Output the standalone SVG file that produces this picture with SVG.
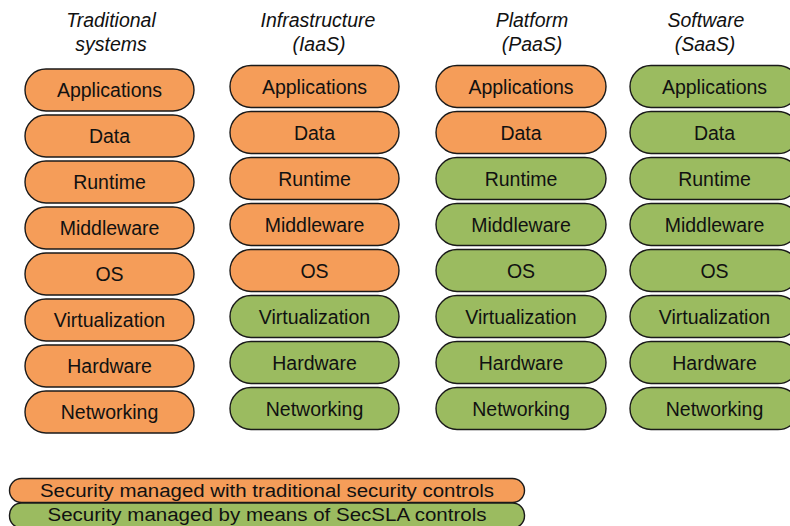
<svg xmlns="http://www.w3.org/2000/svg" width="790" height="526" viewBox="0 0 790 526">
<style>
.o{fill:#F59D59;stroke:#1a1a1a;stroke-width:1.4}
.g{fill:#9BBB60;stroke:#1a1a1a;stroke-width:1.4}
.t{font-family:"Liberation Sans",Arial,sans-serif;font-size:19.5px;fill:#111;text-anchor:middle}
.h{font-family:"Liberation Sans",Arial,sans-serif;font-size:19.5px;font-style:italic;fill:#111;text-anchor:middle}
.l{font-family:"Liberation Sans",Arial,sans-serif;font-size:18px;fill:#111;text-anchor:middle}
</style>
<rect width="790" height="526" fill="#fff"/>
<g id="headers">
<text class="h" x="111" y="27">Traditional</text><text class="h" x="111" y="51">systems</text>
<text class="h" x="318" y="27">Infrastructure</text><text class="h" x="319" y="51">(IaaS)</text>
<text class="h" x="532" y="27">Platform</text><text class="h" x="532" y="51">(PaaS)</text>
<text class="h" x="706" y="27">Software</text><text class="h" x="705" y="51">(SaaS)</text>
</g>
<g id="col-traditional">
<g id="t-app"><rect class="o" x="25" y="69" width="169" height="42" rx="21"/><text class="t" x="109.5" y="97">Applications</text></g>
<g id="t-data"><rect class="o" x="25" y="115" width="169" height="42" rx="21"/><text class="t" x="109.5" y="143">Data</text></g>
<g id="t-runtime"><rect class="o" x="25" y="161" width="169" height="42" rx="21"/><text class="t" x="109.5" y="189">Runtime</text></g>
<g id="t-mw"><rect class="o" x="25" y="207" width="169" height="42" rx="21"/><text class="t" x="109.5" y="235">Middleware</text></g>
<g id="t-os"><rect class="o" x="25" y="253" width="169" height="42" rx="21"/><text class="t" x="109.5" y="281">OS</text></g>
<g id="t-virt"><rect class="o" x="25" y="299" width="169" height="42" rx="21"/><text class="t" x="109.5" y="327">Virtualization</text></g>
<g id="t-hw"><rect class="o" x="25" y="345" width="169" height="42" rx="21"/><text class="t" x="109.5" y="373">Hardware</text></g>
<g id="t-net"><rect class="o" x="25" y="391" width="169" height="42" rx="21"/><text class="t" x="109.5" y="419">Networking</text></g>
</g>
<g id="col-iaas">
<g id="i-app"><rect class="o" x="230" y="65.5" width="169" height="42" rx="21"/><text class="t" x="314.5" y="93.5">Applications</text></g>
<g id="i-data"><rect class="o" x="230" y="111.5" width="169" height="42" rx="21"/><text class="t" x="314.5" y="139.5">Data</text></g>
<g id="i-runtime"><rect class="o" x="230" y="157.5" width="169" height="42" rx="21"/><text class="t" x="314.5" y="185.5">Runtime</text></g>
<g id="i-mw"><rect class="o" x="230" y="203.5" width="169" height="42" rx="21"/><text class="t" x="314.5" y="231.5">Middleware</text></g>
<g id="i-os"><rect class="o" x="230" y="249.5" width="169" height="42" rx="21"/><text class="t" x="314.5" y="277.5">OS</text></g>
<g id="i-virt"><rect class="g" x="230" y="295.5" width="169" height="42" rx="21"/><text class="t" x="314.5" y="323.5">Virtualization</text></g>
<g id="i-hw"><rect class="g" x="230" y="341.5" width="169" height="42" rx="21"/><text class="t" x="314.5" y="369.5">Hardware</text></g>
<g id="i-net"><rect class="g" x="230" y="387.5" width="169" height="42" rx="21"/><text class="t" x="314.5" y="415.5">Networking</text></g>
</g>
<g id="col-paas">
<g id="p-app"><rect class="o" x="436" y="65.5" width="170" height="42" rx="21"/><text class="t" x="521" y="93.5">Applications</text></g>
<g id="p-data"><rect class="o" x="436" y="111.5" width="170" height="42" rx="21"/><text class="t" x="521" y="139.5">Data</text></g>
<g id="p-runtime"><rect class="g" x="436" y="157.5" width="170" height="42" rx="21"/><text class="t" x="521" y="185.5">Runtime</text></g>
<g id="p-mw"><rect class="g" x="436" y="203.5" width="170" height="42" rx="21"/><text class="t" x="521" y="231.5">Middleware</text></g>
<g id="p-os"><rect class="g" x="436" y="249.5" width="170" height="42" rx="21"/><text class="t" x="521" y="277.5">OS</text></g>
<g id="p-virt"><rect class="g" x="436" y="295.5" width="170" height="42" rx="21"/><text class="t" x="521" y="323.5">Virtualization</text></g>
<g id="p-hw"><rect class="g" x="436" y="341.5" width="170" height="42" rx="21"/><text class="t" x="521" y="369.5">Hardware</text></g>
<g id="p-net"><rect class="g" x="436" y="387.5" width="170" height="42" rx="21"/><text class="t" x="521" y="415.5">Networking</text></g>
</g>
<g id="col-saas">
<g id="s-app"><rect class="g" x="630" y="65.5" width="169" height="42" rx="21"/><text class="t" x="714.5" y="93.5">Applications</text></g>
<g id="s-data"><rect class="g" x="630" y="111.5" width="169" height="42" rx="21"/><text class="t" x="714.5" y="139.5">Data</text></g>
<g id="s-runtime"><rect class="g" x="630" y="157.5" width="169" height="42" rx="21"/><text class="t" x="714.5" y="185.5">Runtime</text></g>
<g id="s-mw"><rect class="g" x="630" y="203.5" width="169" height="42" rx="21"/><text class="t" x="714.5" y="231.5">Middleware</text></g>
<g id="s-os"><rect class="g" x="630" y="249.5" width="169" height="42" rx="21"/><text class="t" x="714.5" y="277.5">OS</text></g>
<g id="s-virt"><rect class="g" x="630" y="295.5" width="169" height="42" rx="21"/><text class="t" x="714.5" y="323.5">Virtualization</text></g>
<g id="s-hw"><rect class="g" x="630" y="341.5" width="169" height="42" rx="21"/><text class="t" x="714.5" y="369.5">Hardware</text></g>
<g id="s-net"><rect class="g" x="630" y="387.5" width="169" height="42" rx="21"/><text class="t" x="714.5" y="415.5">Networking</text></g>
</g>
<g id="connectors"></g>
<g id="legend">
<g id="legend-traditional"><rect class="o" x="9.5" y="478.5" width="515" height="24" rx="12"/><text class="l" x="267" y="497" textLength="454" lengthAdjust="spacingAndGlyphs">Security managed with traditional security controls</text></g>
<g id="legend-secsla"><rect class="g" x="9.5" y="503" width="515" height="25" rx="12"/><text class="l" x="267" y="521" textLength="439" lengthAdjust="spacingAndGlyphs">Security managed by means of SecSLA controls</text></g>
</g>
</svg>
